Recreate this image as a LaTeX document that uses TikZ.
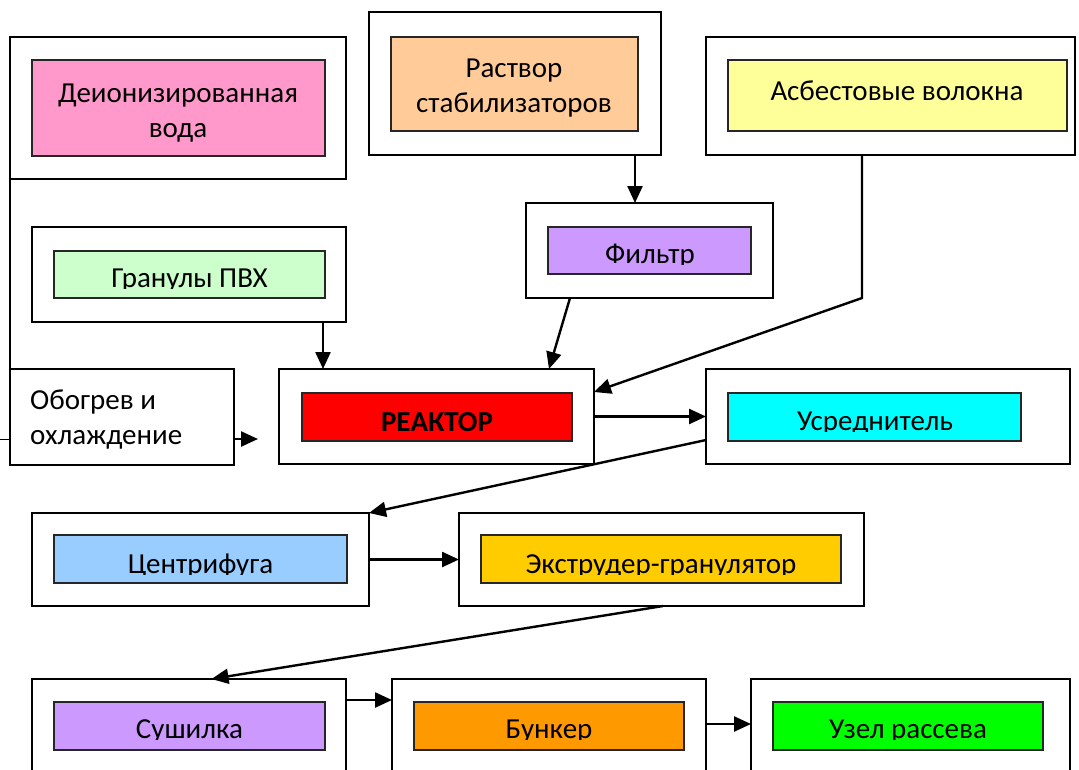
\documentclass[tikz,border=0pt]{standalone}
\usepackage{fontspec}
\setmainfont{Carlito}
\usetikzlibrary{arrows.meta}
\newcommand\bx[6]{\node[#1, minimum width={#5-#3}, minimum height={#6-#4}] (#2) at ({(#3+#5)/2},{(#4+#6)/2}) {};}
\definecolor{cpink}{HTML}{FF99CC}
\definecolor{cpeach}{HTML}{FFCC99}
\definecolor{cyel}{HTML}{FFFF99}
\definecolor{cmint}{HTML}{CCFFCC}
\definecolor{cviol}{HTML}{CC99FF}
\definecolor{cred}{HTML}{FF0000}
\definecolor{ccyan}{HTML}{00FFFF}
\definecolor{cblue}{HTML}{99CCFF}
\definecolor{cgold}{HTML}{FFCC00}
\definecolor{corange}{HTML}{FF9900}
\definecolor{cgreen}{HTML}{00FF00}
\begin{document}
\begin{tikzpicture}[x=1pt,y=-1pt,
  outerbox/.style={draw=black, line width=2pt, fill=white, inner sep=0pt, outer sep=0pt},
  innerbox/.style={draw=black!85, line width=1.6pt, inner sep=0pt, outer sep=0pt},
  lbl/.style={font=\fontsize{29}{35}\selectfont, inner sep=0pt, align=center},
  conn/.style={line width=2.4pt, -{Triangle[length=17pt,width=15pt]}},
  plain/.style={line width=2pt}
]
\clip (0,0) rectangle (1079,769);
\fill[white] (0,0) rectangle (1079,769);

% outer boxes
\bx{outerbox}{deionO}{10}{37}{346}{179}
\bx{outerbox}{rastO}{369}{12}{661}{155}
\bx{outerbox}{asbO}{706}{37}{1075}{155}
\bx{outerbox}{granO}{32}{227}{346}{322}
\bx{outerbox}{filtO}{526}{203}{773}{298}
\bx{outerbox}{obogO}{10}{369}{234}{465}
\bx{outerbox}{reacO}{279}{369}{594}{464}
\bx{outerbox}{usrO}{706}{369}{1070}{464}
\bx{outerbox}{centO}{32}{513}{369}{606}
\bx{outerbox}{extO}{459}{513}{864}{606}
\bx{outerbox}{sushO}{32}{679}{346}{800}
\bx{outerbox}{bunkO}{392}{679}{706}{800}
\bx{outerbox}{uzelO}{751}{679}{1070}{800}

% inner boxes
\bx{innerbox,fill=cpink}{deionI}{32}{60}{325}{156}
\bx{innerbox,fill=cpeach}{rastI}{391}{37}{638}{131}
\bx{innerbox,fill=cyel}{asbI}{728}{60}{1067}{131}
\bx{innerbox,fill=cmint}{granI}{54}{251}{325}{298}
\bx{innerbox,fill=cviol}{filtI}{548}{227}{751}{274}
\bx{innerbox,fill=cred}{reacI}{302}{393}{572}{441}
\bx{innerbox,fill=ccyan}{usrI}{728}{393}{1021}{441}
\bx{innerbox,fill=cblue}{centI}{54}{535}{347}{583}
\bx{innerbox,fill=cgold}{extI}{481}{535}{841}{583}
\bx{innerbox,fill=cviol}{sushI}{54}{702}{325}{750}
\bx{innerbox,fill=corange}{bunkI}{414}{702}{684}{750}
\bx{innerbox,fill=cgreen}{uzelI}{773}{702}{1043}{750}

% unclipped texts (base = last line)
\node[lbl, anchor=base] (deionT) at (178,137) {Деионизированная\\вода};
\node[lbl, anchor=base] (rastT) at (514,112) {Раствор\\стабилизаторов};
\node[lbl, anchor=base] (asbT) at (897,100) {Асбестовые волокна};
\node[lbl, anchor=base, font=\fontsize{29}{35}\selectfont\bfseries] (reacT) at (437,431) {РЕАКТОР};
\node[lbl, anchor=base west, align=left] (obogT) at (30,444) {Обогрев и\\охлаждение};

% clipped texts
\begin{scope}\clip (54,251) rectangle (325,288);
\node[lbl, anchor=base] (granT) at (189.5,287) {Гранулы ПВХ};\end{scope}
\begin{scope}\clip (548,227) rectangle (751,264);
\node[lbl, anchor=base] (filtT) at (650,263) {Фильтр};\end{scope}
\begin{scope}\clip (728,393) rectangle (1021,431);
\node[lbl, anchor=base] (usrT) at (875,430) {Усреднитель};\end{scope}
\begin{scope}\clip (54,535) rectangle (347,574);
\node[lbl, anchor=base] (centT) at (200.5,573) {Центрифуга};\end{scope}
\begin{scope}\clip (481,535) rectangle (841,574);
\node[lbl, anchor=base] (extT) at (661,573) {Экструдер-гранулятор};\end{scope}
\begin{scope}\clip (54,702) rectangle (325,739);
\node[lbl, anchor=base] (sushT) at (189.5,738) {Сушилка};\end{scope}
\begin{scope}\clip (414,702) rectangle (684,739);
\node[lbl, anchor=base] (bunkT) at (549,738) {Бункер};\end{scope}
\begin{scope}\clip (773,702) rectangle (1043,739);
\node[lbl, anchor=base] (uzelT) at (908,738) {Узел рассева};\end{scope}

% connectors
\coordinate (bend) at (862,298);
\coordinate (obogEnd) at (258,439);
\coordinate (tick) at (0,439);
\draw[plain] (deionO.south west) -- (obogO.north west);
\draw[line width=1pt] (tick) -- ([yshift=-22pt]obogO.west);
\draw[conn] ([xshift=-26pt]rastO.south east) -- ([xshift=-26pt]rastO.south east |- filtO.north);
\draw[conn] (bend |- asbO.south) -- (bend) -- ([yshift=-23pt]reacO.north east);
\draw[conn] ([xshift=44pt]filtO.south west) -- ([xshift=-45pt]reacO.north east);
\draw[conn] ([xshift=-23pt]granO.south east) -- ([xshift=-23pt]granO.south east |- reacO.north);
\draw[conn] ([yshift=-22pt]obogO.east) -- (obogEnd);
\draw[conn] (reacO.east) -- (usrO.west);
\draw[conn] ([yshift=-23.5pt]usrO.west) -- (centO.north east);
\draw[conn] (centO.east) -- (centO.east -| extO.west);
\draw[conn] ([xshift=1.5pt]extO.south) -- ([xshift=22.5pt]sushO.north);
\draw[conn] ([yshift=-21pt]sushO.north east) -- ([yshift=-21pt]sushO.north east -| bunkO.west);
\draw[conn] ([yshift=-45pt]bunkO.north east) -- ([yshift=-45pt]bunkO.north east -| uzelO.west);
\end{tikzpicture}
\end{document}
